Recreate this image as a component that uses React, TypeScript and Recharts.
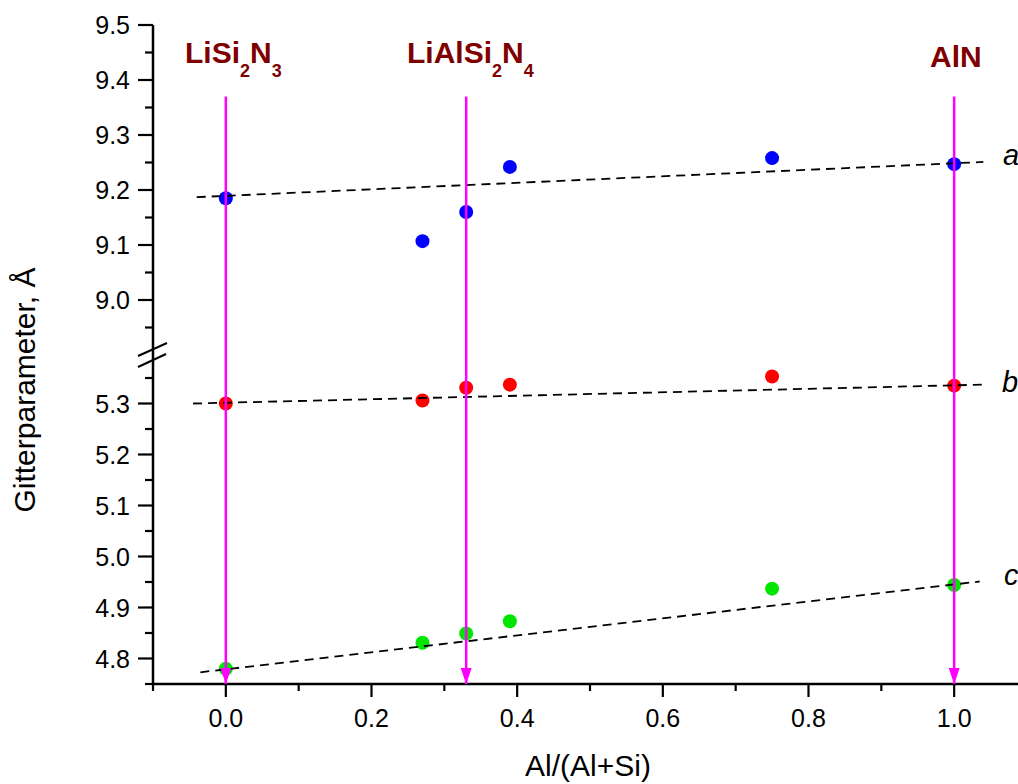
import { Scatter, ScatterChart, XAxis, YAxis } from "recharts";

// Al/(Al+Si) composition of each sample
const compositions = [0, 0.27, 0.33, 0.39, 0.75, 1.0];
// lattice parameters (Å)
const paramA = [9.185, 9.107, 9.16, 9.242, 9.258, 9.247];
const paramB = [5.3, 5.306, 5.331, 5.337, 5.353, 5.335];
const paramC = [4.78, 4.831, 4.849, 4.873, 4.937, 4.944];

// dashed trend lines (end points)
const fitAX = [-0.04, 1.04];
const fitAY = [9.187, 9.251];
const fitBX = [-0.045, 1.04];
const fitBY = [5.3, 5.337];
const fitCX = [-0.035, 1.035];
const fitCY = [4.773, 4.951];

// reference phases marked by magenta arrows
const phaseNames = ["LiSi2N3", "LiAlSi2N4", "AlN"];
const phaseX = [0, 0.33, 1.0];
const arrowTop = 9.37;
const arrowBottom = 4.75;

const xTicks = [-0.1, 0, 0.1, 0.2, 0.3, 0.4, 0.5, 0.6, 0.7, 0.8, 0.9, 1.0, 1.1];
const xTickLabels = ["", "0.0", "", "0.2", "", "0.4", "", "0.6", "", "0.8", "", "1.0", ""];

const yMajorUpper = [9.0, 9.1, 9.2, 9.3, 9.4, 9.5];
const yMinorUpper = [8.95, 9.05, 9.15, 9.25, 9.35, 9.45];
const yMajorLower = [4.8, 4.9, 5.0, 5.1, 5.2, 5.3];
const yMinorLower = [4.75, 4.85, 4.95, 5.05, 5.15, 5.25, 5.35];

// broken axis: lower block 4.75..5.396, upper block 8.9..9.5
const LOWER_MIN = 4.75;
const LOWER_SCALE = 510;
const UPPER_MIN = 8.9;
const UPPER_SCALE = 550;
const BREAK_U = 329;
const TOP_U = 659;

function toU(v: number) {
  const u = v > 7 ? BREAK_U + (v - UPPER_MIN) * UPPER_SCALE : (v - LOWER_MIN) * LOWER_SCALE;
  return Math.round(u * 100) / 100;
}

const yTickInfo = new Map<number, { label: string; major: boolean }>();
[...yMajorUpper, ...yMajorLower].forEach((v) => yTickInfo.set(toU(v), { label: v.toFixed(1), major: true }));
[...yMinorUpper, ...yMinorLower].forEach((v) => yTickInfo.set(toU(v), { label: "", major: false }));
const yTicks = [...yTickInfo.keys(), BREAK_U].sort((a, b) => a - b);

const rows = (ys: number[]) => compositions.map((x, i) => ({ x, y: toU(ys[i]) }));
const line = (xs: number[], ys: number[]) => xs.map((x, i) => ({ x, y: toU(ys[i]) }));

const FONT = "'Liberation Sans', Arial, Helvetica, sans-serif";
const MAGENTA = "#ff00ff";

function YTick(props: any) {
  const { x, y, payload } = props;
  if (payload.value === BREAK_U) {
    return (
      <g stroke="#000" strokeWidth={2}>
        <line x1={x - 15} y1={y + 1} x2={x + 14} y2={y - 12} />
        <line x1={x - 15} y1={y + 12} x2={x + 13} y2={y - 1} />
      </g>
    );
  }
  const info = yTickInfo.get(payload.value);
  if (!info) return <g />;
  return (
    <g>
      <line x1={x - (info.major ? 15 : 8)} y1={y} x2={x} y2={y} stroke="#000" strokeWidth={2.2} />
      {info.label && (
        <text x={x - 23} y={y + 9} textAnchor="end" fontSize={25} fontFamily={FONT} fill="#000">
          {info.label}
        </text>
      )}
    </g>
  );
}

function XTick(props: any) {
  const { x, y, payload, index } = props;
  const label = xTickLabels[xTicks.indexOf(payload.value)] ?? xTickLabels[index] ?? "";
  const major = label !== "";
  return (
    <g>
      <line x1={x} y1={y} x2={x} y2={y + (major ? 13 : 7)} stroke="#000" strokeWidth={2.2} />
      {major && (
        <text x={x} y={y + 43} textAnchor="middle" fontSize={25} fontFamily={FONT} fill="#000">
          {label}
        </text>
      )}
    </g>
  );
}

const dot = (fill: string) => (p: any) => <circle cx={p.cx} cy={p.cy} r={7} fill={fill} />;
const noDot = () => <g />;
const arrowHead = (p: any) =>
  p.payload.tip ? (
    <path d={`M${p.cx - 5.5},${p.cy - 16}L${p.cx + 5.5},${p.cy - 16}L${p.cx},${p.cy}Z`} fill={MAGENTA} />
  ) : (
    <g />
  );

function PhaseLabel({ name, x, y }: { name: string; x: number; y: number }) {
  const parts = name.match(/[A-Za-z]+|\d+/g) || [];
  let down = false;
  return (
    <text x={x} y={y} fontSize={30} fontWeight="bold" fontFamily={FONT} fill="#7f0000">
      {parts.map((p, i) => {
        const isSub = /\d/.test(p);
        const dy = isSub && !down ? 14 : !isSub && down ? -14 : 0;
        down = isSub;
        return (
          <tspan key={i} dy={dy} fontSize={isSub ? 18 : 30}>
            {p}
          </tspan>
        );
      })}
    </text>
  );
}

const phaseLabelPos = [
  { x: 185, y: 63 },
  { x: 407, y: 63 },
  { x: 930, y: 67 },
];

export default function App() {
  return (
    <div
      style={{
        position: "fixed",
        left: 0,
        top: 0,
        width: 1018,
        height: 784,
        overflow: "hidden",
        background: "#fff",
        fontFamily: FONT,
      }}
    >
      <ScatterChart width={1040} height={784} margin={{ top: 25, right: 13, bottom: 0, left: 0 }}>
        <XAxis
          type="number"
          dataKey="x"
          domain={[-0.1, 1.1]}
          ticks={xTicks}
          interval={0}
          allowDataOverflow
          height={100}
          tickSize={0}
          tickMargin={0}
          tickLine={false}
          axisLine={{ stroke: "#000", strokeWidth: 2.5 }}
          tick={<XTick />}
        />
        <YAxis
          type="number"
          dataKey="y"
          domain={[0, TOP_U]}
          ticks={yTicks}
          interval={0}
          allowDataOverflow
          width={153}
          tickSize={0}
          tickMargin={0}
          tickLine={false}
          axisLine={{ stroke: "#000", strokeWidth: 2.5 }}
          tick={<YTick />}
        />
        <Scatter data={rows(paramA)} shape={dot("#0000ff")} isAnimationActive={false} />
        <Scatter data={rows(paramB)} shape={dot("#ff0000")} isAnimationActive={false} />
        <Scatter data={rows(paramC)} shape={dot("#00e600")} isAnimationActive={false} />
        {[
          [fitAX, fitAY],
          [fitBX, fitBY],
          [fitCX, fitCY],
        ].map(([xs, ys], i) => (
          <Scatter
            key={"fit" + i}
            data={line(xs, ys)}
            shape={noDot}
            line={{ stroke: "#000", strokeWidth: 1.8, strokeDasharray: "9 6" }}
            isAnimationActive={false}
          />
        ))}
        {phaseX.map((px, i) => (
          <Scatter
            key={"arrow" + i}
            data={[
              { x: px, y: toU(arrowTop), tip: false },
              { x: px, y: toU(arrowBottom), tip: true },
            ]}
            shape={arrowHead}
            line={{ stroke: MAGENTA, strokeWidth: 2.5 }}
            isAnimationActive={false}
          />
        ))}
      </ScatterChart>
      <svg
        width={1018}
        height={784}
        style={{ position: "absolute", left: 0, top: 0, pointerEvents: "none" }}
      >
        {phaseNames.map((name, i) => (
          <PhaseLabel key={name} name={name} x={phaseLabelPos[i].x} y={phaseLabelPos[i].y} />
        ))}
        <g fontSize={29} fontStyle="italic" fontFamily={FONT} fill="#000">
          <text x={1003} y={165}>a</text>
          <text x={1002} y={392}>b</text>
          <text x={1004} y={585}>c</text>
        </g>
        <text x={588} y={776} textAnchor="middle" fontSize={30} fontFamily={FONT} fill="#000">
          Al/(Al+Si)
        </text>
        <text
          transform="translate(35,390) rotate(-90)"
          textAnchor="middle"
          fontSize={30}
          fontFamily={FONT}
          fill="#000"
        >
          Gitterparameter, Å
        </text>
      </svg>
    </div>
  );
}
